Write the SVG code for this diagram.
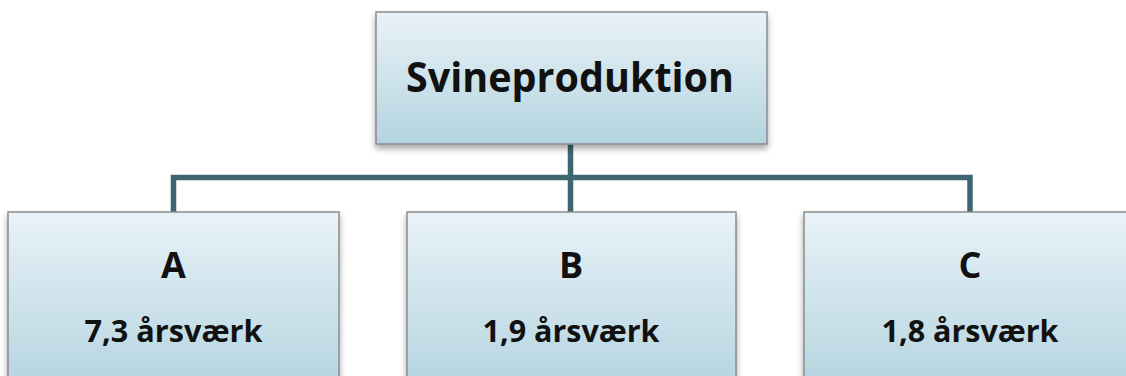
<svg xmlns="http://www.w3.org/2000/svg" width="1126" height="376" viewBox="0 0 1126 376">
<style>
.box{fill:url(#g);stroke:#8c8c8c;stroke-width:1.5;filter:url(#sh)}
.t{font-family:"Open Sans","Liberation Sans",sans-serif;font-weight:bold;fill:#111;text-anchor:middle}
.conn{fill:none;stroke:#3e6670;stroke-width:5.5}
</style>
<defs>
<linearGradient id="g" x1="0" y1="0" x2="0" y2="1">
<stop offset="0" stop-color="#e9f2f8"/>
<stop offset="1" stop-color="#b3d4df"/>
</linearGradient>
<filter id="sh" x="-5%" y="-5%" width="110%" height="125%">
<feDropShadow dx="0" dy="4" stdDeviation="3" flood-color="#000" flood-opacity="0.35"/>
</filter>
</defs>
<g id="connectors">
<path class="conn" d="M570.5 144 V177.5 M173.5 212 V177.5 H970 V212 M570.5 177.5 V212"/>
</g>
<g id="top">
<rect class="box" x="376" y="12" width="391" height="132"/>
<text class="t" x="570" y="92" font-size="41" textLength="328" lengthAdjust="spacingAndGlyphs">Svineproduktion</text>
</g>
<g id="A">
<rect class="box" x="8" y="212" width="331" height="180"/>
<text class="t" x="173.5" y="278" font-size="36">A</text>
<text class="t" x="173.5" y="342" font-size="31" textLength="178" lengthAdjust="spacingAndGlyphs">7,3 årsværk</text>
</g>
<g id="B">
<rect class="box" x="407" y="212" width="329" height="180"/>
<text class="t" x="571" y="278" font-size="36">B</text>
<text class="t" x="571" y="342" font-size="31" textLength="177" lengthAdjust="spacingAndGlyphs">1,9 årsværk</text>
</g>
<g id="C">
<rect class="box" x="804" y="212" width="331" height="180"/>
<text class="t" x="970" y="278" font-size="36">C</text>
<text class="t" x="970" y="342" font-size="31" textLength="177" lengthAdjust="spacingAndGlyphs">1,8 årsværk</text>
</g>
</svg>
